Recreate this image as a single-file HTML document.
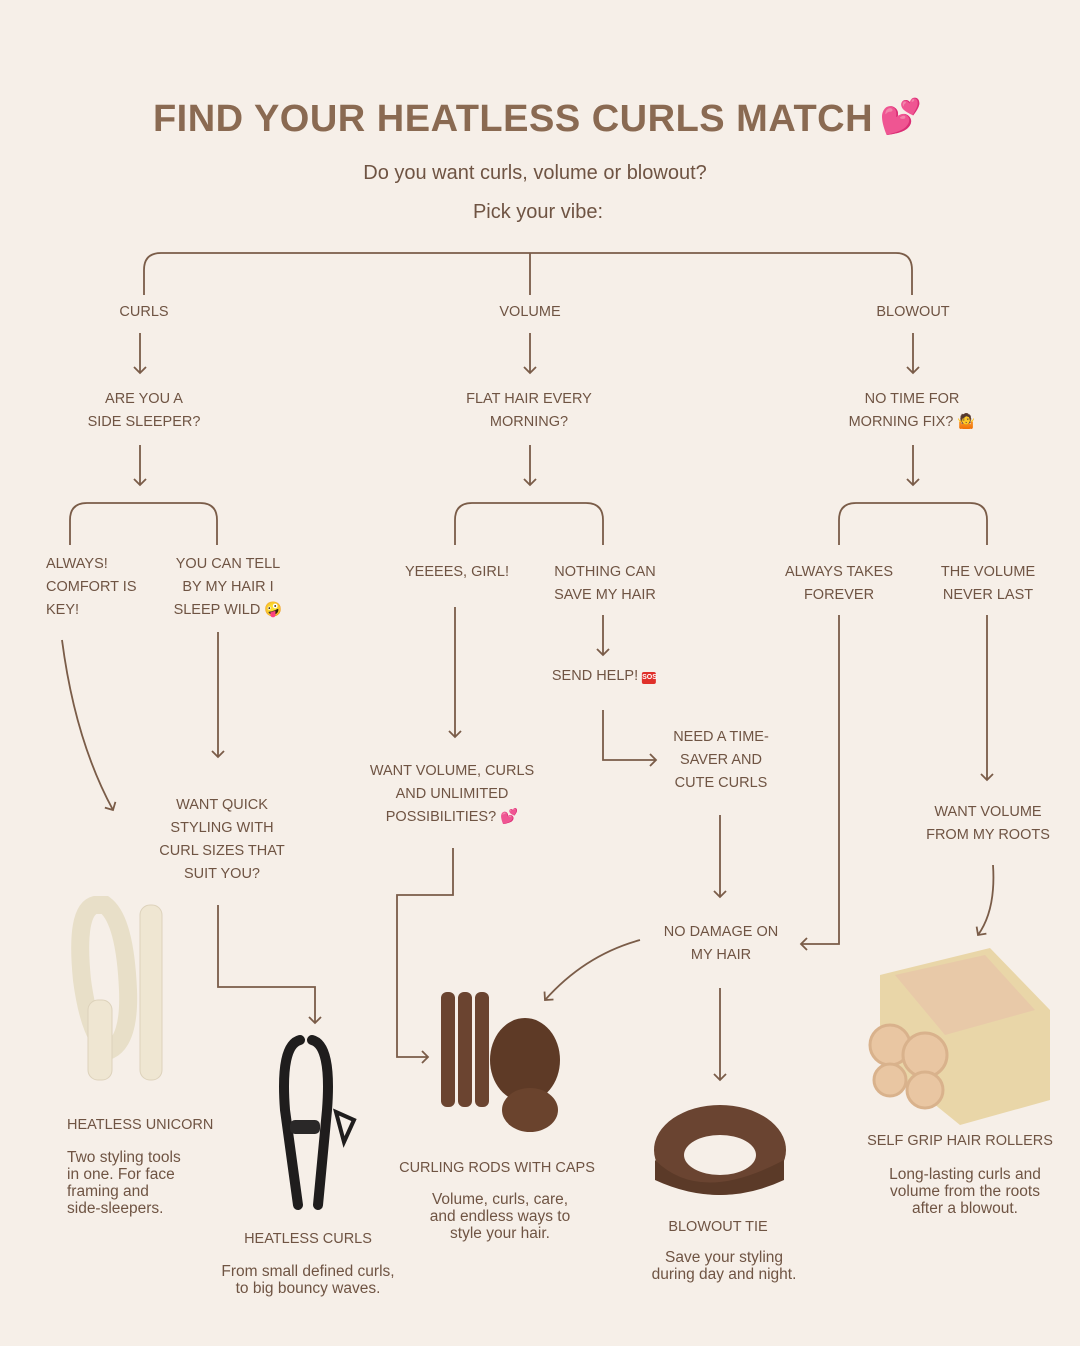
<!DOCTYPE html>
<html><head><meta charset="utf-8"><style>
body{margin:0;width:1080px;height:1346px;background:#f6efe8;position:relative;overflow:hidden;font-family:"Liberation Sans","Noto Sans CJK SC",sans-serif;color:#6f5443}
.t{position:absolute;text-align:center;font-size:14.5px;line-height:23px;letter-spacing:0;transform:translateX(-50%);white-space:nowrap}
.l{text-align:left;transform:none}
.d{font-size:15.5px;line-height:17px;letter-spacing:0}
.sos{display:inline-block;background:#e0302a;color:#fff;font-size:7px;line-height:12px;width:14px;height:12px;border-radius:2px;vertical-align:1px;font-weight:bold;text-align:center}
</style></head><body>
<div class="t" style="left:513px;top:96px;font-size:38px;line-height:46px;font-weight:bold;color:#8a6a52;letter-spacing:0.5px">FIND YOUR HEATLESS CURLS MATCH</div>
<div class="t" style="left:901px;top:95px;font-size:34px;line-height:44px">💕</div>
<div class="t" style="left:535px;top:160px;font-size:20px;line-height:26px">Do you want curls, volume or blowout?</div>
<div class="t" style="left:538px;top:199px;font-size:20px;line-height:26px">Pick your vibe:</div>

<svg width="1080" height="1346" style="position:absolute;left:0;top:0" fill="none" stroke="#7a5c48" stroke-width="1.8">
<defs><marker id="a" markerWidth="14" markerHeight="14" refX="7" refY="7" orient="auto" markerUnits="userSpaceOnUse"><path d="M1,1 L7,7 L1,13" stroke="#7a5c48" stroke-width="1.8" fill="none"/></marker></defs>
<path d="M144,295 V270 Q144,253 161,253 H896 Q912,253 912,270 V295"/>
<path d="M530,253 V295"/>
<path d="M140,333V373" marker-end="url(#a)"/><path d="M530,333V373" marker-end="url(#a)"/><path d="M913,333V373" marker-end="url(#a)"/>
<path d="M140,445V485" marker-end="url(#a)"/><path d="M530,445V485" marker-end="url(#a)"/><path d="M913,445V485" marker-end="url(#a)"/>
<path d="M70,545 V520 Q70,503 87,503 H200 Q217,503 217,520 V545"/>
<path d="M455,545 V520 Q455,503 472,503 H586 Q603,503 603,520 V545"/>
<path d="M839,545 V520 Q839,503 856,503 H970 Q987,503 987,520 V545"/>
<path d="M62,640 Q75,740 113,810" marker-end="url(#a)"/>
<path d="M218,632 V757" marker-end="url(#a)"/>
<path d="M455,607 V737" marker-end="url(#a)"/>
<path d="M603,615 V655" marker-end="url(#a)"/>
<path d="M603,710 V760 H656" marker-end="url(#a)"/>
<path d="M720,815 V897" marker-end="url(#a)"/>
<path d="M839,615 V944 H801" marker-end="url(#a)"/>
<path d="M987,615 V780" marker-end="url(#a)"/>
<path d="M993,865 Q996,910 978,935" marker-end="url(#a)"/>
<path d="M453,848 V895 H397 V1057 H428" marker-end="url(#a)"/>
<path d="M218,905 V987 H315 V1023" marker-end="url(#a)"/>
<path d="M640,940 Q585,955 545,1000" marker-end="url(#a)"/>
<path d="M720,988 V1080" marker-end="url(#a)"/>
</svg>

<div class="t" style="left:144px;top:301px">CURLS</div>
<div class="t" style="left:530px;top:301px">VOLUME</div>
<div class="t" style="left:913px;top:301px">BLOWOUT</div>
<div class="t" style="left:144px;top:388px">ARE YOU A<br>SIDE SLEEPER?</div>
<div class="t" style="left:529px;top:388px">FLAT HAIR EVERY<br>MORNING?</div>
<div class="t" style="left:912px;top:388px">NO TIME FOR<br>MORNING FIX? 🤷</div>
<div class="t l" style="left:46px;top:553px">ALWAYS!<br>COMFORT IS<br>KEY!</div>
<div class="t" style="left:228px;top:553px">YOU CAN TELL<br>BY MY HAIR I<br>SLEEP WILD 🤪</div>
<div class="t" style="left:457px;top:561px">YEEEES, GIRL!</div>
<div class="t" style="left:605px;top:561px">NOTHING CAN<br>SAVE MY HAIR</div>
<div class="t" style="left:839px;top:561px">ALWAYS TAKES<br>FOREVER</div>
<div class="t" style="left:988px;top:561px">THE VOLUME<br>NEVER LAST</div>
<div class="t" style="left:604px;top:665px">SEND HELP! <span class="sos">SOS</span></div>
<div class="t" style="left:721px;top:726px">NEED A TIME-<br>SAVER AND<br>CUTE CURLS</div>
<div class="t" style="left:452px;top:760px">WANT VOLUME, CURLS<br>AND UNLIMITED<br>POSSIBILITIES? 💕</div>
<div class="t" style="left:222px;top:794px">WANT QUICK<br>STYLING WITH<br>CURL SIZES THAT<br>SUIT YOU?</div>
<div class="t" style="left:988px;top:801px">WANT VOLUME<br>FROM MY ROOTS</div>
<div class="t" style="left:721px;top:921px">NO DAMAGE ON<br>MY HAIR</div>

<svg width="1080" height="1346" style="position:absolute;left:0;top:0">
<g fill="#efe6d2" stroke="#ddd2bb" stroke-width="1">
<path d="M95,905 Q75,910 82,980 Q90,1040 110,1050 Q130,1040 128,990 Q125,920 105,905 Z" fill="none" stroke="#e8dfc8" stroke-width="18"/>
<rect x="140" y="905" width="22" height="175" rx="10"/>
<rect x="88" y="1000" width="24" height="80" rx="10"/>
</g>
<path d="M300,1040 Q280,1045 285,1110 L298,1205 M312,1040 Q332,1045 327,1110 L318,1205" fill="none" stroke="#1f1d1d" stroke-width="10" stroke-linecap="round"/>
<rect x="290" y="1120" width="30" height="14" rx="5" fill="#2a2828"/>
<path d="M336,1112 l18,8 l-10,22 z" fill="none" stroke="#1f1d1d" stroke-width="4"/>
<g fill="#6b4430">
<rect x="441" y="992" width="14" height="115" rx="6"/>
<rect x="458" y="992" width="14" height="115" rx="6"/>
<rect x="475" y="992" width="14" height="115" rx="6"/>
<ellipse cx="525" cy="1060" rx="35" ry="42" fill="#5e3a26"/>
<ellipse cx="530" cy="1110" rx="28" ry="22" fill="#6a432d"/>
</g>
<ellipse cx="720" cy="1150" rx="66" ry="45" fill="#6a4431"/>
<ellipse cx="720" cy="1155" rx="36" ry="20" fill="#f6efe8"/>
<path d="M655,1160 Q700,1205 784,1160 L784,1180 Q720,1210 655,1180 Z" fill="#5b3a28"/>
<polygon points="880,975 990,948 1050,1010 1050,1100 960,1125 880,1060" fill="#e9d6a8"/>
<polygon points="895,975 985,955 1035,1010 945,1035" fill="#e8c9a8"/>
<g fill="#e9c6a2" stroke="#d9b28c" stroke-width="3">
<circle cx="890" cy="1045" r="20"/><circle cx="925" cy="1055" r="22"/><circle cx="890" cy="1080" r="16"/><circle cx="925" cy="1090" r="18"/>
</g>
</svg>

<div class="t l" style="left:67px;top:1114px">HEATLESS UNICORN</div>
<div class="t l d" style="left:67px;top:1149px">Two styling tools<br>in one. For face<br>framing and<br>side-sleepers.</div>
<div class="t" style="left:308px;top:1228px">HEATLESS CURLS</div>
<div class="t d" style="left:308px;top:1263px">From small defined curls,<br>to big bouncy waves.</div>
<div class="t" style="left:497px;top:1157px">CURLING RODS WITH CAPS</div>
<div class="t d" style="left:500px;top:1191px">Volume, curls, care,<br>and endless ways to<br>style your hair.</div>
<div class="t" style="left:718px;top:1216px">BLOWOUT TIE</div>
<div class="t d" style="left:724px;top:1249px">Save your styling<br>during day and night.</div>
<div class="t" style="left:960px;top:1130px">SELF GRIP HAIR ROLLERS</div>
<div class="t d" style="left:965px;top:1166px">Long-lasting curls and<br>volume from the roots<br>after a blowout.</div>
</body></html>
